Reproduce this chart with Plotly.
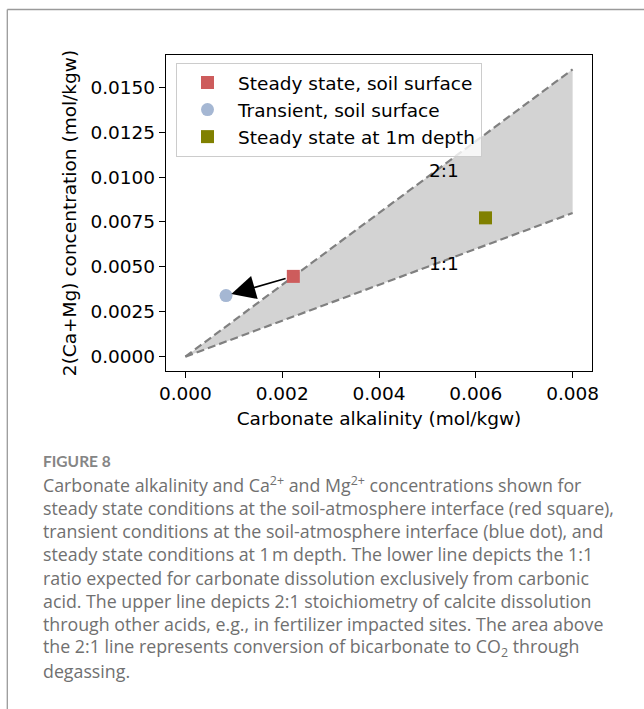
import plotly.graph_objects as go

# ---- data ----
series_names = ["Steady state, soil surface", "Transient, soil surface", "Steady state at 1m depth"]
alkalinity = [0.00223, 0.00084, 0.0062]        # mol/kgw
ca_mg = [0.00447, 0.0034, 0.00773]             # 2(Ca+Mg) mol/kgw
series_colors = ["#CD5C5C", "#A5B7D3", "#808000"]
series_symbols = ["square", "circle", "square"]

line_x = [0.0, 0.008]
ratio_low = 1.0   # 1:1
ratio_high = 2.0  # 2:1
ratio_labels = ["2:1", "1:1"]
label_pos_x = [0.005, 0.005]
label_pos_y = [0.01036, 0.00518]

x_ticks = [0.000, 0.002, 0.004, 0.006, 0.008]
y_ticks = [0.0000, 0.0025, 0.0050, 0.0075, 0.0100, 0.0125, 0.0150]

caption_head = "FIGURE 8"
caption_lines = [
    "Carbonate alkalinity and Ca<sup>2+</sup> and Mg<sup>2+</sup> concentrations shown for",
    "steady state conditions at the soil-atmosphere interface (red square),",
    "transient conditions at the soil-atmosphere interface (blue dot), and",
    "steady state conditions at 1\u202fm depth. The lower line depicts the 1:1",
    "ratio expected for carbonate dissolution exclusively from carbonic",
    "acid. The upper line depicts 2:1 stoichiometry of calcite dissolution",
    "through other acids, e.g., in fertilizer impacted sites. The area above",
    "the 2:1 line represents conversion of bicarbonate to CO<sub>2</sub> through",
    "degassing.",
]

# ---- layout geometry (pixels) ----
W, H = 644, 709
PL, PR, PT, PB = 166, 592, 55, 371
FONT = "DejaVu Sans"
FS = 18.5


def px_x(px):
    return (px - PL) / (PR - PL)


def px_y(py):
    return (PB - py) / (PB - PT)


fig = go.Figure()

# shaded wedge between 1:1 and 2:1 lines
wedge_x = [line_x[0], line_x[1], line_x[1], line_x[0]]
wedge_y = [line_x[0] * ratio_low, line_x[1] * ratio_low, line_x[1] * ratio_high, line_x[0] * ratio_high]
fig.add_trace(go.Scatter(x=wedge_x, y=wedge_y, fill="toself", fillcolor="#D3D3D3",
                         mode="lines", line=dict(width=0, color="rgba(0,0,0,0)"),
                         showlegend=False, hoverinfo="skip"))
for r in (ratio_high, ratio_low):
    fig.add_trace(go.Scatter(x=line_x, y=[v * r for v in line_x], mode="lines",
                             line=dict(color="#808080", width=2.2, dash="8px,4px"),
                             showlegend=False, hoverinfo="skip"))

for i, name in enumerate(series_names):
    fig.add_trace(go.Scatter(x=[alkalinity[i]], y=[ca_mg[i]], mode="markers", name=name,
                             legendgroup=f"g{i}",
                             marker=dict(symbol=series_symbols[i], size=13, color=series_colors[i],
                                         line=dict(width=0))))

annotations = []
# arrow from steady state (red) to transient (blue)
annotations.append(dict(x=alkalinity[1], y=ca_mg[1], ax=alkalinity[0], ay=ca_mg[0],
                        xref="x", yref="y", axref="x", ayref="y", text="", showarrow=True,
                        arrowhead=2, arrowsize=3.0, arrowwidth=1.6, arrowcolor="black",
                        standoff=5.5, startstandoff=6.5))
for t, lx, ly in zip(ratio_labels, label_pos_x, label_pos_y):
    annotations.append(dict(x=lx, y=ly, xref="x", yref="y", text=t, showarrow=False,
                            xanchor="left", yanchor="middle",
                            font=dict(family=FONT, size=FS, color="black")))

# caption
CAP_X = px_x(40.5)
annotations.append(dict(x=CAP_X, y=px_y(460.5), xref="paper", yref="paper", text=caption_head,
                        showarrow=False, xanchor="left", yanchor="middle",
                        font=dict(family="Lato", size=15.5, color="#858585", weight=700)))
CAP_FS = 17.8
for k, line in enumerate(caption_lines):
    center = 484.3 + 23.3 * k
    annotations.append(dict(x=CAP_X, y=px_y(center), xref="paper", yref="paper",
                            text=line, showarrow=False, xanchor="left", yanchor="middle",
                            font=dict(family="Open Sans", size=CAP_FS, color="#707070")))

# outer frame (top + left)
shapes = [
    dict(type="line", xref="paper", yref="paper", x0=px_x(7.3), x1=px_x(W + 2), y0=px_y(9.5), y1=px_y(9.5),
         line=dict(color="#9a9a9a", width=1.3)),
    dict(type="line", xref="paper", yref="paper", x0=px_x(7.3), x1=px_x(7.3), y0=px_y(9.5), y1=px_y(H + 2),
         line=dict(color="#9a9a9a", width=1.3)),
]

axis_common = dict(showline=True, mirror=True, linecolor="black", linewidth=1.3,
                   ticks="outside", ticklen=6, tickwidth=1.3, tickcolor="black",
                   showgrid=False, zeroline=False,
                   tickfont=dict(family=FONT, size=FS, color="black"))

fig.update_layout(
    width=W, height=H,
    margin=dict(l=PL, r=W - PR, t=PT, b=H - PB, autoexpand=False),
    paper_bgcolor="white", plot_bgcolor="white",
    font=dict(family=FONT, size=FS, color="black"),
    xaxis=dict(range=[-0.0004, 0.0084], tickvals=x_ticks, tickformat=".3f",
               title=dict(text="Carbonate alkalinity (mol/kgw)", standoff=8,
                          font=dict(family=FONT, size=FS, color="black")),
               automargin=False, **axis_common),
    yaxis=dict(range=[-0.0008, 0.0168], tickvals=y_ticks, tickformat=".4f",
               title=dict(text="2(Ca+Mg) concentration (mol/kgw)", standoff=8,
                          font=dict(family=FONT, size=FS, color="black")),
               automargin=False, **axis_common),
    legend=dict(x=px_x(176), y=px_y(63), xanchor="left", yanchor="top",
                bgcolor="rgba(255,255,255,0.8)", bordercolor="#cccccc", borderwidth=1,
                font=dict(family=FONT, size=FS, color="black"),
                itemwidth=51, tracegroupgap=5, traceorder="normal"),
    annotations=annotations,
    shapes=shapes,
)

fig.write_html("out.html")
